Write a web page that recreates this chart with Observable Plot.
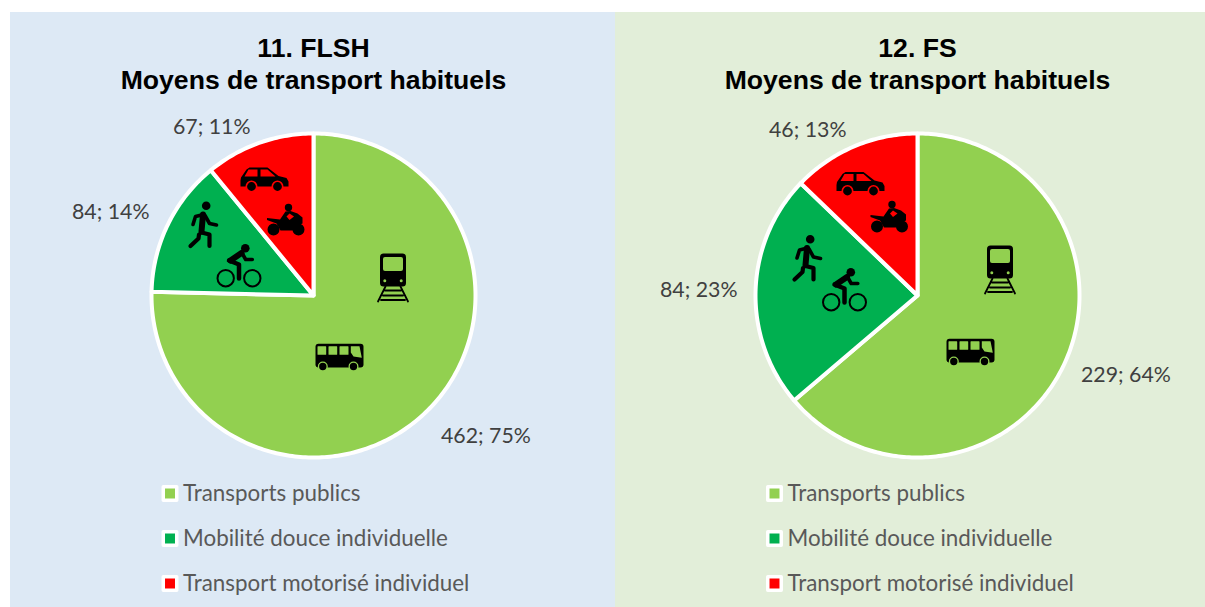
<!DOCTYPE html>
<html lang="fr">
<head>
<meta charset="utf-8">
<title>Moyens de transport habituels</title>
<style>html,body{margin:0;padding:0;background:#fff;overflow:hidden}svg{display:block}</style>
<script src="https://cdn.jsdelivr.net/npm/d3@7"></script>
<script src="https://cdn.jsdelivr.net/npm/@observablehq/plot@0.6"></script>
</head>
<body>
<div id="chart"></div>
<script>
// ---- Data ----
const categories = ["Transports publics", "Mobilité douce individuelle", "Transport motorisé individuel"];
const panelTitles = ["11. FLSH", "12. FS"];
const subtitle = "Moyens de transport habituels";
const valuesFLSH = [462, 84, 67];
const valuesFS = [229, 84, 46];
const colors = ["#92D050", "#00B050", "#FF0000"];

// ---- Layout (page pixels) ----
const W = 1205, H = 607;
const panels = [
  {x1: 10, x2: 615, bg: "#DDE9F5", cx: 313, values: valuesFLSH, title: panelTitles[0],
   labels: [[440.5, 436], [71.5, 212], [172.5, 127]], legendX: 169.5,
   icons: {train: [392.5, 277], bus: [339, 357], walker: [203, 224], bike: [238.5, 265], car: [264, 179], moto: [285, 219]}},
  {x1: 615, x2: 1205, bg: "#E2EED9", cx: 917, values: valuesFS, title: panelTitles[1],
   labels: [[1080.5, 375], [659.5, 290], [768.5, 130]], legendX: 774,
   icons: {train: [999.5, 269], bus: [970, 352], walker: [807, 257.5], bike: [844, 289], car: [860, 183.5], moto: [888.5, 216]}}
];
const cy = 295, radius = 162;
const legendY = [493, 538, 583];

// ---- Pie geometry from the values ----
const pieGen = d3.pie().sort(null);
const slicePoints = panels.flatMap((p, pi) =>
  pieGen(p.values).flatMap((a, si) => {
    const steps = Math.max(2, Math.ceil((a.endAngle - a.startAngle) * 60));
    const pts = [{key: `${pi}-${si}`, cat: categories[si], x: p.cx, y: cy}];
    for (let k = 0; k <= steps; ++k) {
      const t = a.startAngle + (a.endAngle - a.startAngle) * k / steps;
      pts.push({key: `${pi}-${si}`, cat: categories[si], x: p.cx + radius * Math.sin(t), y: cy - radius * Math.cos(t)});
    }
    return pts;
  })
);

// ---- Icon drawing helpers ----
const poly = (c, pts, close = true) => {
  pts.forEach(([x, y], i) => i ? c.lineTo(x, y) : c.moveTo(x, y));
  if (close) c.closePath();
};
const disc = (c, x, y, r) => { c.moveTo(x + r, y); c.arc(x, y, r, 0, 2 * Math.PI); };
const rrect = (c, x0, y0, x1, y1, r) => {
  c.moveTo(x0 + r, y0); c.lineTo(x1 - r, y0); c.arcTo(x1, y0, x1, y0 + r, r);
  c.lineTo(x1, y1 - r); c.arcTo(x1, y1, x1 - r, y1, r);
  c.lineTo(x0 + r, y1); c.arcTo(x0, y1, x0, y1 - r, r);
  c.lineTo(x0, y0 + r); c.arcTo(x0, y0, x0 + r, y0, r); c.closePath();
};
// part: {paint:"ink"|"bg", w: stroke width (0 = filled), draw}
const glyphs = {
  train: {slice: 0, parts: [
    {paint: "ink", w: 0, draw: c => rrect(c, -13, -24, 13, 9, 3.5)},
    {paint: "bg", w: 0, draw: c => rrect(c, -10, -20.5, 10, -6.5, 2)},
    {paint: "bg", w: 0, draw: c => { disc(c, -8.2, 3.3, 1.5); disc(c, 8.2, 3.3, 1.5); }},
    {paint: "ink", w: 1.8, draw: c => {
      poly(c, [[-7.5, 9], [-15, 24]], false); poly(c, [[7.5, 9], [15, 24]], false);
      poly(c, [[-8, 13], [8, 13]], false); poly(c, [[-10, 18], [10, 18]], false); poly(c, [[-12, 22.5], [12, 22.5]], false);
    }}
  ]},
  bus: {slice: 0, parts: [
    {paint: "ink", w: 0, draw: c => rrect(c, -24, -13.7, 24, 10, 3)},
    {paint: "bg", w: 0, draw: c => {
      rrect(c, -22, -11.3, -13.3, -2.7, 0.5); rrect(c, -11, -11.3, -2.3, -2.7, 0.5); rrect(c, 0, -11.3, 9, -2.7, 0.5);
      poly(c, [[11.3, -11.3], [20, -11.3], [22.3, 0.3], [14, -1], [11.3, -5]]);
    }},
    {paint: "bg", w: 0, draw: c => { disc(c, -16.7, 9, 5); disc(c, 14, 9, 5); }},
    {paint: "ink", w: 0, draw: c => { disc(c, -16.7, 9, 3.7); disc(c, 14, 9, 3.7); }}
  ]},
  walker: {slice: 1, parts: [
    {paint: "ink", w: 0, draw: c => disc(c, 2.7, -18.8, 4.3)},
    {paint: "ink", w: 6, draw: c => poly(c, [[-0.5, -10], [-2, 7]], false)},
    {paint: "ink", w: 3.6, draw: c => {
      poly(c, [[0, -10], [-8, -8], [-10.5, 0]], false);
      poly(c, [[1.5, -9], [6, -1], [13, 0.5]], false);
    }},
    {paint: "ink", w: 4.2, draw: c => {
      poly(c, [[-2, 8], [6, 10], [6, 21.5]], false);
      poly(c, [[-4.5, 10], [-5, 14], [-13, 21.5]], false);
    }}
  ]},
  bike: {slice: 1, parts: [
    {paint: "ink", w: 0, draw: c => disc(c, 6.3, -17.3, 4.3)},
    {paint: "ink", w: 2, draw: c => { disc(c, -13.3, 12.7, 8.2); disc(c, 13.3, 12.7, 8.2); }},
    {paint: "ink", w: 6, draw: c => poly(c, [[-8.5, -5], [2.5, -12.5]], false)},
    {paint: "ink", w: 3.6, draw: c => poly(c, [[3.3, -12], [6.7, -6], [13.3, -6]], false)},
    {paint: "ink", w: 4.5, draw: c => poly(c, [[-10, -5], [0, -1], [0, 13]], false)}
  ]},
  car: {slice: 2, parts: [
    {paint: "ink", w: 0, draw: c => poly(c, [[-23.5, -2], [-18, -10], [-15, -12], [3, -12], [14, -3.5], [22, -1.5], [24, 2], [24, 7], [-24, 7], [-24, 1]])},
    {paint: "bg", w: 0, draw: c => {
      poly(c, [[-16, -10], [-7, -10], [-7, -3], [-20, -3]]);
      poly(c, [[-4, -10], [3, -10], [11, -3], [-4, -3]]);
    }},
    {paint: "bg", w: 0, draw: c => { disc(c, -13, 7, 6); disc(c, 13, 7, 6); }},
    {paint: "ink", w: 0, draw: c => { disc(c, -13, 7, 4.4); disc(c, 13, 7, 4.4); }}
  ]},
  moto: {slice: 2, parts: [
    {paint: "ink", w: 0, draw: c => { disc(c, -12, 10, 6); disc(c, 13, 10, 6); disc(c, 3, -12, 3.7); }},
    {paint: "ink", w: 0, draw: c => poly(c, [[-18.5, -1.5], [-5.5, 0], [0, -8], [5, -8.5], [12, -6], [17, -2], [17, 4], [10, 7], [8, 11], [-5, 11], [-9, 4], [-18.5, 0.5]])},
    {paint: "bg", w: 0, draw: c => poly(c, [[1, -3], [4, -6], [8.5, -3], [4, 0.5]])}
  ]}
};
const iconMarks = Object.entries(glyphs).flatMap(([name, g]) =>
  g.parts.map(part => {
    const color = part.paint === "ink" ? "black" : colors[g.slice];
    const style = part.w
      ? {fill: "none", stroke: color, strokeWidth: part.w, strokeLinecap: "round", strokeLinejoin: "round"}
      : {fill: color, stroke: "none"};
    return Plot.dot(panels, {
      x: p => p.icons[name][0], y: p => p.icons[name][1],
      symbol: {draw: (c) => part.draw(c)}, r: 5, ...style
    });
  })
);

// ---- Text tables ----
const valueLabels = panels.flatMap(p => {
  const total = d3.sum(p.values);
  return p.values.map((v, i) => ({text: `${v}; ${Math.round(v / total * 100)}%`, x: p.labels[i][0], y: p.labels[i][1]}));
});
const legendRows = panels.flatMap(p => categories.map((cat, i) => ({cat, x: p.legendX, y: legendY[i]})));
const bodyFont = "Lato, Carlito, 'Open Sans', sans-serif";
const titleFont = "'Liberation Sans', Arial, sans-serif";

const chart = Plot.plot({
  width: W, height: H, margin: 0,
  x: {domain: [0, W], range: [0, W], axis: null},
  y: {domain: [0, H], range: [0, H], axis: null},
  color: {type: "ordinal", domain: categories, range: colors},
  style: {background: "white"},
  marks: [
    ...panels.map(p => Plot.rect([p], {x1: d => d.x1, x2: d => d.x2, y1: () => 12, y2: () => H, fill: p.bg})),
    Plot.line(slicePoints, {x: "x", y: "y", z: "key", fill: "cat", stroke: "white", strokeWidth: 4, curve: "linear-closed", strokeLinejoin: "round"}),
    ...iconMarks,
    Plot.text(panels, {x: "cx", y: () => 48, text: "title", fontFamily: titleFont, fontWeight: "bold", fontSize: 26.6, fill: "black", lineAnchor: "middle"}),
    Plot.text(panels, {x: "cx", y: () => 80, text: () => subtitle, fontFamily: titleFont, fontWeight: "bold", fontSize: 26.6, fill: "black", lineAnchor: "middle"}),
    Plot.text(valueLabels, {x: "x", y: "y", text: "text", textAnchor: "start", lineAnchor: "middle", fontFamily: bodyFont, fontSize: 21.3, fill: "#404040"}),
    Plot.dot(legendRows, {x: "x", y: "y", symbol: "square", r: 7.6, fill: "cat", stroke: "white", strokeWidth: 3.5, strokeLinejoin: "round"}),
    Plot.text(legendRows, {x: d => d.x + 13, y: "y", text: "cat", textAnchor: "start", lineAnchor: "middle", fontFamily: bodyFont, fontSize: 22.4, fill: "#595959"})
  ]
});
document.getElementById("chart").append(chart);
</script>
</body>
</html>
